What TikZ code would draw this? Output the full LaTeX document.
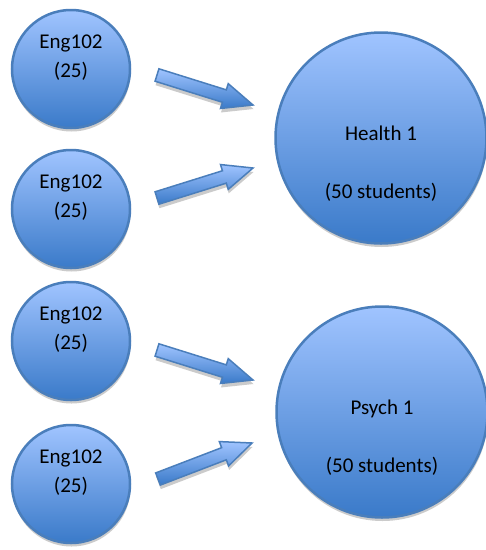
\documentclass[tikz,border=0pt]{standalone}
\usepackage{fontspec}
\setmainfont{Carlito}
\usetikzlibrary{calc,shadows}
\definecolor{edgeblue}{RGB}{74,126,187}
\definecolor{topc}{RGB}{160,196,255}
\definecolor{botc}{RGB}{58,122,201}
\definecolor{shad}{RGB}{190,190,190}
\tikzset{
  disc/.style={circle, draw=edgeblue, line width=2.5pt, top color=topc, bottom color=botc,
    drop shadow={shadow xshift=0.5pt, shadow yshift=-3.5pt, fill=shad, opacity=0.8}, inner sep=0pt},
  smalldisc/.style={disc, minimum size=118pt},
  bigdisc/.style={disc, minimum size=211pt},
  txt/.style={font=\fontsize{21}{29}\selectfont, align=center, text=black},
  blockarrow/.style={draw=edgeblue, line width=1.5pt, line join=miter, top color=topc, bottom color=botc,
    drop shadow={shadow xshift=0.5pt, shadow yshift=-4pt, fill=shad, opacity=0.8}}
}
\newcommand\blockarr[2]{%
  \coordinate (#1b) at ($(#2)!30pt!(#1)$);
  \path[blockarrow] ($(#1)!6.5pt!90:(#2)$) -- ($(#1b)!6.5pt!90:(#2)$) -- ($(#1b)!13pt!90:(#2)$) -- (#2)
    -- ($(#1b)!13pt!-90:(#2)$) -- ($(#1b)!6.5pt!-90:(#2)$) -- ($(#1)!6.5pt!-90:(#2)$) -- cycle;}
\begin{document}
\begin{tikzpicture}[x=1pt,y=1pt]
\useasboundingbox[fill=white] (0,0) rectangle (486,-550);
% small circles
\node[smalldisc, label={[txt,yshift=11pt]center:{Eng102\\(25)}}] (e1) at (71,-69) {};
\node[smalldisc, label={[txt,yshift=11pt]center:{Eng102\\(25)}}] (e2) at (71,-209) {};
\node[smalldisc, label={[txt,yshift=11pt]center:{Eng102\\(25)}}] (e3) at (71,-341) {};
\node[smalldisc, label={[txt,yshift=11pt]center:{Eng102\\(25)}}] (e4) at (71,-484) {};
% big circles
\node[bigdisc, label={[txt,yshift=-26pt]center:{Health 1\\[29pt](50 students)}}] (h1) at (381,-138) {};
\node[bigdisc, label={[txt,yshift=-26pt]center:{Psych 1\\[29pt](50 students)}}] (p1) at (382,-412) {};
% arrows
\coordinate (a1t) at (157,-75);  \coordinate (a1h) at (253,-105);
\coordinate (a2t) at (157,-198); \coordinate (a2h) at (253,-168);
\coordinate (a3t) at (157,-350); \coordinate (a3h) at (253,-380);
\coordinate (a4t) at (158,-479); \coordinate (a4h) at (252,-443);
\blockarr{a1t}{a1h}
\blockarr{a2t}{a2h}
\blockarr{a3t}{a3h}
\blockarr{a4t}{a4h}
\end{tikzpicture}
\end{document}
